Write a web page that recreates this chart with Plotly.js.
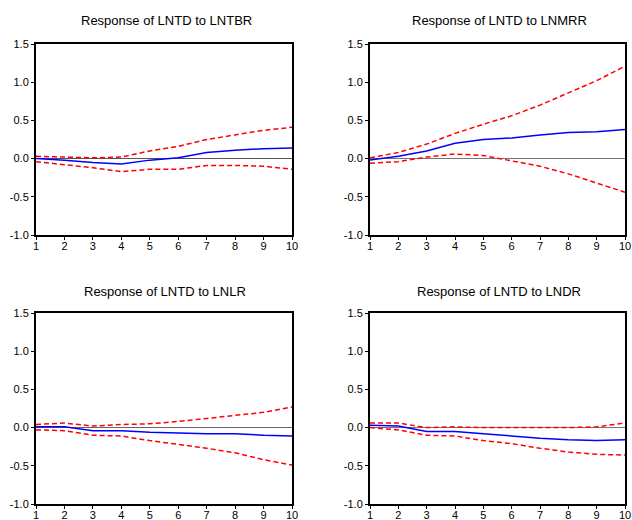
<!DOCTYPE html>
<html>
<head>
<meta charset="utf-8">
<script src="https://cdn.plot.ly/plotly-3.0.1.min.js"></script>
<style>html,body{margin:0;padding:0;background:#fff;}#chart{width:632px;height:520px;}</style>
</head>
<body>
<div id="chart"></div>
<script>
const periods = [1,2,3,4,5,6,7,8,9,10];
const yTicks = [-1.0,-0.5,0.0,0.5,1.0,1.5];

const titles = ["Response of LNTD to LNTBR","Response of LNTD to LNMRR","Response of LNTD to LNLR","Response of LNTD to LNDR"];

const tbrResp  = [0.00,-0.02,-0.05,-0.07,-0.02,0.01,0.08,0.11,0.13,0.14];
const tbrUpper = [0.03,0.02,0.01,0.02,0.10,0.16,0.25,0.31,0.37,0.41];
const tbrLower = [-0.04,-0.08,-0.12,-0.17,-0.14,-0.14,-0.09,-0.09,-0.10,-0.14];

const mrrResp  = [-0.02,0.03,0.10,0.20,0.25,0.27,0.31,0.34,0.35,0.38];
const mrrUpper = [0.01,0.08,0.19,0.33,0.45,0.56,0.70,0.86,1.02,1.21];
const mrrLower = [-0.06,-0.04,0.02,0.06,0.04,-0.03,-0.10,-0.20,-0.32,-0.44];

const lrResp  = [0.01,0.01,-0.04,-0.04,-0.06,-0.07,-0.08,-0.08,-0.10,-0.11];
const lrUpper = [0.04,0.06,0.02,0.04,0.05,0.08,0.12,0.16,0.20,0.27];
const lrLower = [-0.03,-0.04,-0.10,-0.11,-0.17,-0.22,-0.27,-0.33,-0.42,-0.49];

const drResp  = [0.03,0.02,-0.05,-0.05,-0.08,-0.11,-0.14,-0.16,-0.17,-0.16];
const drUpper = [0.06,0.06,0.00,0.01,0.00,0.00,0.00,0.00,0.01,0.06];
const drLower = [0.00,-0.03,-0.10,-0.11,-0.17,-0.21,-0.27,-0.32,-0.35,-0.36];

const panels = [
  [tbrResp,tbrUpper,tbrLower],
  [mrrResp,mrrUpper,mrrLower],
  [lrResp,lrUpper,lrLower],
  [drResp,drUpper,drLower]
];

const W=632,H=520;
const boxes = [
  {x0:36,x1:292,y0:44,y1:235},
  {x0:370,x1:625,y0:44,y1:235},
  {x0:36,x1:292,y0:313,y1:504},
  {x0:370,x1:625,y0:313,y1:504}
];
const titlePos = [[166,21],[499,21],[165,291],[499,291]];
const zeroColors = ['#555555','#777777','#666666','#777777'];

const data=[];
const layout={
  width:W,height:H,
  margin:{l:0,r:0,t:0,b:0},
  paper_bgcolor:'#fff',plot_bgcolor:'#fff',
  showlegend:false,
  font:{family:'"Liberation Sans", Arial, sans-serif',size:11,color:'#000'},
  annotations:[]
};

panels.forEach((p,i)=>{
  const n=i+1;
  const xa='x'+(n===1?'':n), ya='y'+(n===1?'':n);
  const b=boxes[i];
  const red={color:'#ff0000',width:1.5,dash:'5px,3px'};
  data.push({x:periods,y:p[1],xaxis:xa,yaxis:ya,mode:'lines',line:red,hoverinfo:'skip'});
  data.push({x:periods,y:p[2],xaxis:xa,yaxis:ya,mode:'lines',line:red,hoverinfo:'skip'});
  data.push({x:periods,y:p[0],xaxis:xa,yaxis:ya,mode:'lines',line:{color:'#0000ff',width:1.5},hoverinfo:'skip'});
  const xk='xaxis'+(n===1?'':n), yk='yaxis'+(n===1?'':n);
  layout[xk]={
    domain:[b.x0/W,b.x1/W],anchor:ya,range:[1,10],
    tickvals:periods,ticktext:periods.map(String),
    ticks:'outside',ticklen:3,tickcolor:'#000',ticklabelstandoff:-3,
    showgrid:false,zeroline:false,
    showline:true,mirror:true,linecolor:'#000',linewidth:2,
    tickfont:{size:11,color:'#000'}
  };
  layout[yk]={
    domain:[1-b.y1/H,1-b.y0/H],anchor:xa,range:[-1.0,1.5],
    tickvals:yTicks,ticktext:yTicks.map(v=>v.toFixed(1)),
    ticks:'outside',ticklen:3,tickcolor:'#000',
    showgrid:false,zeroline:true,zerolinecolor:zeroColors[i],zerolinewidth:1.5,
    showline:true,mirror:true,linecolor:'#000',linewidth:2,
    tickfont:{size:11,color:'#000'}
  };
  layout.annotations.push({
    text:titles[i],xref:'paper',yref:'paper',
    x:titlePos[i][0]/W,y:1-titlePos[i][1]/H,
    xanchor:'center',yanchor:'middle',showarrow:false,
    font:{size:13,color:'#000'}
  });
});

Plotly.newPlot('chart',data,layout,{staticPlot:true,displayModeBar:false});
</script>
</body>
</html>
